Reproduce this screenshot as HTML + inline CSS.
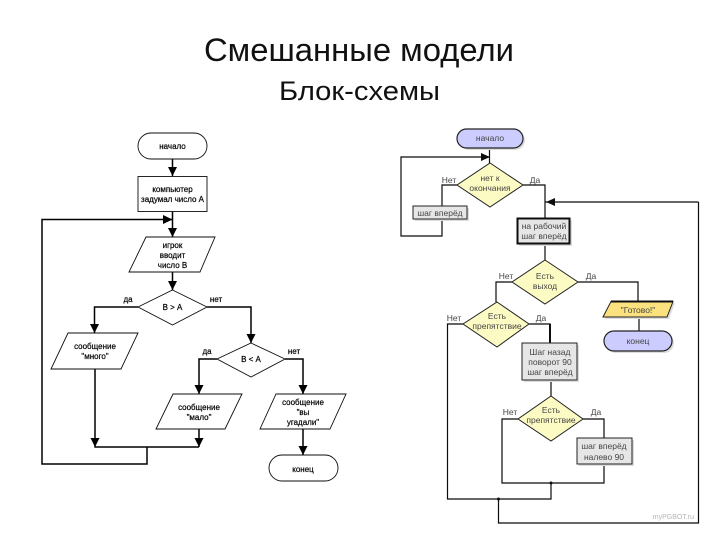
<!DOCTYPE html>
<html lang="ru">
<head>
<meta charset="utf-8">
<title>Смешанные модели</title>
<style>
html,body{margin:0;padding:0;background:#fff;width:720px;height:540px;overflow:hidden}
svg{display:block}
text{font-family:"Liberation Sans",sans-serif}
.t{font-size:8px;text-anchor:middle;fill:#000;stroke:#000;stroke-width:.2}
.r{font-size:8.5px;text-anchor:middle;fill:#444}
.l{fill:none;stroke:#111;stroke-width:1.2}
.ll{fill:none;stroke:#000;stroke-width:1.5}
.s{fill:#fff;stroke:#111;stroke-width:.9}
.y{fill:#fdfbc4;stroke:#222;stroke-width:1}
.g{fill:#e6e6e6;stroke:#222;stroke-width:1}
.sh{fill:#dcdcdc}
</style>
</head>
<body>
<svg width="720" height="540" viewBox="0 0 720 540" xmlns="http://www.w3.org/2000/svg">
<defs><filter id="b" x="-5%" y="-5%" width="110%" height="110%"><feGaussianBlur stdDeviation="0.35"/></filter></defs>
<rect width="720" height="540" fill="#fff"/>
<text x="204" y="61" font-size="32" fill="#111" textLength="310" lengthAdjust="spacingAndGlyphs">Смешанные модели</text>
<text x="279" y="100" font-size="27" fill="#111" textLength="161" lengthAdjust="spacingAndGlyphs">Блок-схемы</text>

<g filter="url(#b)">
<!-- left diagram connectors -->
<path class="ll" d="M172.500 159V176M172.500 211V237M172.500 272V290M138 307H94.500V333M207 307H251V343M95 369V447H199M199 429V447M147 447V464H42V219.500H172.500M217 359H199V394M285 359H303V394M303 429V455"/>
<g fill="#000">
<path d="M168 167H177L172.500 176Z"/>
<path d="M168 228H177L172.500 237Z"/>
<path d="M168 281H177L172.500 290Z"/>
<path d="M163 215L172.500 219.500L163 224Z"/>
<path d="M90 324H99L94.500 333Z"/>
<path d="M246.500 334H255.500L251 343Z"/>
<path d="M90.500 438H99.500L95 447Z"/>
<path d="M194.500 438H203.500L199 447Z"/>
<path d="M194.500 385H203.500L199 394Z"/>
<path d="M298.500 385H307.500L303 394Z"/>
<path d="M298.500 446H307.500L303 455Z"/>
</g>
<!-- left diagram shapes -->
<rect class="s" x="138" y="133" width="69" height="26" rx="13"/>
<rect class="s" x="138" y="176.500" width="69" height="35"/>
<path class="s" d="M146 237H215L200 272H129Z"/>
<path class="s" d="M172.500 290L207 307L172.500 325L138 307Z"/>
<path class="s" d="M68 333H138L121 369H51Z"/>
<path class="s" d="M251 343L285 359L251 377L217 359Z"/>
<path class="s" d="M173 394H242L225 429H156Z"/>
<path class="s" d="M276 394H346L330 429H260Z"/>
<rect class="s" x="269" y="455" width="69" height="26" rx="13"/>
<!-- left diagram labels -->
<text class="t" x="172.500" y="149">начало</text>
<text class="t" x="172.500" y="192">компьютер</text>
<text class="t" x="172.500" y="202">задумал число А</text>
<text class="t" x="172.500" y="248">игрок</text>
<text class="t" x="172.500" y="258">вводит</text>
<text class="t" x="172.500" y="268">число В</text>
<text class="t" x="172.500" y="310">В &gt; А</text>
<text class="t" x="128" y="302">да</text>
<text class="t" x="216" y="302">нет</text>
<text class="t" x="95" y="349">сообщение</text>
<text class="t" x="95" y="359">"много"</text>
<text class="t" x="251" y="362">В &lt; А</text>
<text class="t" x="207" y="354">да</text>
<text class="t" x="294" y="354">нет</text>
<text class="t" x="199" y="410">сообщение</text>
<text class="t" x="199" y="420">"мало"</text>
<text class="t" x="303" y="405">сообщение</text>
<text class="t" x="303" y="415">"вы</text>
<text class="t" x="303" y="425">угадали"</text>
<text class="t" x="303" y="472">конец</text>

<!-- right diagram connectors -->
<path class="l" d="M489.500 148V163M457 185H442V206M442 219V236H401V157H489.500M523 185H545V218M698.500 202V523H498.500V499M698.500 202H545M545 244V260M512 282H496V302M578 282H638V301M639 317V332M463 324H447.500V499H551V483M529 324H550V343M551 380V396M518 419H502V483H604V464M583 419H604V438"/>
<path d="M550 324V343" stroke="#111" stroke-width="2" fill="none"/>
<path fill="#111" d="M481 153L490 157L481 161Z"/>
<path fill="#111" d="M555 198L546 202L555 206Z"/>
<circle cx="498.500" cy="499" r="1.500" fill="#111"/>
<circle cx="551" cy="483" r="1.500" fill="#111"/>

<!-- right diagram shapes -->
<rect x="459" y="131" width="66" height="19" rx="9.500" fill="#ddd"/>
<rect x="457" y="129" width="66" height="19" rx="9.500" fill="#ccccff" stroke="#222" stroke-width="1.200"/>
<path class="y" d="M490 163L523 185L490 207L457 185Z"/>
<rect class="sh" x="415" y="208" width="54" height="13"/>
<rect class="g" x="413" y="206" width="54" height="13"/>
<rect class="sh" x="519" y="220" width="53" height="26"/>
<rect x="517.500" y="218.500" width="52" height="25" fill="#e6e6e6" stroke="#111" stroke-width="2"/>
<path class="y" d="M545 260L578 282L545 304L512 282Z"/>
<path class="y" d="M497 302L529 324L497 347L463 324Z"/>
<rect class="sh" x="524" y="345" width="55" height="37"/>
<rect class="g" x="522" y="343" width="55" height="37"/>
<path class="y" d="M551 396L583 419L551 441L518 419Z"/>
<rect class="sh" x="579" y="440" width="55" height="26"/>
<rect class="g" x="577" y="438" width="55" height="26"/>
<path d="M613 303H675L669 319H605Z" fill="#ddd"/>
<path d="M611 301.500H673L667 317H603Z" fill="#fbe27f" stroke="#222" stroke-width="1"/>
<path d="M611 301.500H673" stroke="#111" stroke-width="2" fill="none"/>
<rect x="606" y="333" width="68" height="20" rx="10" fill="#ddd"/>
<rect x="604" y="331" width="68" height="20" rx="10" fill="#ccccff" stroke="#222" stroke-width="1.200"/>

<!-- right diagram labels -->
<text class="r" x="490" y="141">начало</text>
<text class="r" x="490" y="181">нет к</text>
<text class="r" x="490" y="191">окончания</text>
<text class="r" x="449" y="183">Нет</text>
<text class="r" x="535" y="183">Да</text>
<text class="r" x="440" y="216">шаг вперёд</text>
<text class="r" x="544" y="229">на рабочий</text>
<text class="r" x="544" y="239">шаг вперёд</text>
<text class="r" x="545" y="279">Есть</text>
<text class="r" x="545" y="289">выход</text>
<text class="r" x="506" y="279">Нет</text>
<text class="r" x="591" y="279">Да</text>
<text class="r" x="638" y="313">"Готово!"</text>
<text class="r" x="638" y="344">конец</text>
<text class="r" x="497" y="319">Есть</text>
<text class="r" x="497" y="329">препятствие</text>
<text class="r" x="454" y="321">Нет</text>
<text class="r" x="541" y="321">Да</text>
<text class="r" x="550" y="355">Шаг назад</text>
<text class="r" x="550" y="365">поворот 90</text>
<text class="r" x="550" y="375">шаг вперёд</text>
<text class="r" x="551" y="413">Есть</text>
<text class="r" x="551" y="423">препятствие</text>
<text class="r" x="510" y="415">Нет</text>
<text class="r" x="596" y="415">Да</text>
<text class="r" x="604" y="449">шаг вперёд</text>
<text class="r" x="604" y="460">налево 90</text>
<text x="694" y="519" font-size="7" text-anchor="end" fill="#b5b5b5">myPGBOT.ru</text>
</g>
</svg>
</body>
</html>
